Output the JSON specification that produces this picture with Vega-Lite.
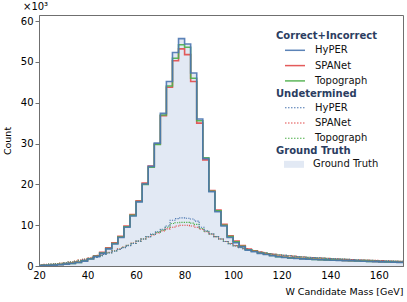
{
  "$schema": "https://vega.github.io/schema/vega-lite/v6.json",
  "width": 364,
  "height": 251,
  "autosize": {"type": "none"},
  "padding": {"left": 39, "top": 15, "right": 4, "bottom": 36},
  "config": {
    "font": "DejaVu Sans",
    "view": {"stroke": "#6f6f6f", "strokeWidth": 1},
    "axis": {"grid": false, "domainColor": "#6f6f6f", "tickColor": "#6f6f6f", "labelColor": "#000", "labelFontSize": 10, "titleFontSize": 9.5, "titleFontWeight": "normal", "titleColor": "#000"},
    "legend": {"orient": "none", "titleFontSize": 10, "titleFontWeight": "bold", "titleColor": "#2b3d61", "labelFontSize": 10, "labelColor": "#111", "symbolType": "M-2,0H2", "symbolSize": 100, "symbolStrokeWidth": 1.5, "symbolOffset": 13, "labelOffset": 14, "rowPadding": 4.3, "titlePadding": 3, "padding": 0}
  },
  "title": {"text": "×10³", "anchor": "start", "frame": "group", "fontSize": 10, "fontWeight": "normal", "color": "#000", "dx": -16, "offset": 3},
  "datasets": {
    "main": [
      {"m": 20, "HyPER": 0.10, "SPANet": 0.13, "Topograph": 0.11, "Truth": 0.10},
      {"m": 22.5, "HyPER": 0.15, "SPANet": 0.19, "Topograph": 0.17, "Truth": 0.15},
      {"m": 25, "HyPER": 0.22, "SPANet": 0.27, "Topograph": 0.24, "Truth": 0.22},
      {"m": 27.5, "HyPER": 0.32, "SPANet": 0.38, "Topograph": 0.35, "Truth": 0.32},
      {"m": 30, "HyPER": 0.45, "SPANet": 0.52, "Topograph": 0.48, "Truth": 0.45},
      {"m": 32.5, "HyPER": 0.60, "SPANet": 0.70, "Topograph": 0.65, "Truth": 0.60},
      {"m": 35, "HyPER": 0.85, "SPANet": 0.97, "Topograph": 0.90, "Truth": 0.85},
      {"m": 37.5, "HyPER": 1.20, "SPANet": 1.35, "Topograph": 1.27, "Truth": 1.20},
      {"m": 40, "HyPER": 1.70, "SPANet": 1.85, "Topograph": 1.77, "Truth": 1.70},
      {"m": 42.5, "HyPER": 2.30, "SPANet": 2.50, "Topograph": 2.40, "Truth": 2.30},
      {"m": 45, "HyPER": 3.10, "SPANet": 3.35, "Topograph": 3.20, "Truth": 3.10},
      {"m": 47.5, "HyPER": 4.20, "SPANet": 4.45, "Topograph": 4.30, "Truth": 4.20},
      {"m": 50, "HyPER": 5.40, "SPANet": 5.70, "Topograph": 5.50, "Truth": 5.40},
      {"m": 52.5, "HyPER": 7.00, "SPANet": 7.30, "Topograph": 7.10, "Truth": 7.00},
      {"m": 55, "HyPER": 9.50, "SPANet": 9.80, "Topograph": 9.60, "Truth": 9.50},
      {"m": 57.5, "HyPER": 12.25, "SPANet": 12.60, "Topograph": 12.40, "Truth": 12.25},
      {"m": 60, "HyPER": 15.70, "SPANet": 16.00, "Topograph": 15.80, "Truth": 15.70},
      {"m": 62.5, "HyPER": 20.10, "SPANet": 20.30, "Topograph": 20.00, "Truth": 20.10},
      {"m": 65, "HyPER": 24.40, "SPANet": 24.50, "Topograph": 24.20, "Truth": 24.40},
      {"m": 67.5, "HyPER": 30.10, "SPANet": 29.90, "Topograph": 29.80, "Truth": 30.10},
      {"m": 70, "HyPER": 37.40, "SPANet": 36.80, "Topograph": 37.00, "Truth": 37.40},
      {"m": 72.5, "HyPER": 45.20, "SPANet": 43.80, "Topograph": 44.10, "Truth": 45.20},
      {"m": 75, "HyPER": 52.30, "SPANet": 50.30, "Topograph": 50.90, "Truth": 52.30},
      {"m": 77.5, "HyPER": 55.70, "SPANet": 53.20, "Topograph": 54.20, "Truth": 55.70},
      {"m": 80, "HyPER": 54.40, "SPANet": 51.80, "Topograph": 53.60, "Truth": 54.40},
      {"m": 82.5, "HyPER": 47.30, "SPANet": 45.20, "Topograph": 46.00, "Truth": 47.30},
      {"m": 85, "HyPER": 36.00, "SPANet": 35.00, "Topograph": 35.60, "Truth": 36.00},
      {"m": 87.5, "HyPER": 26.30, "SPANet": 26.00, "Topograph": 26.50, "Truth": 26.30},
      {"m": 90, "HyPER": 18.20, "SPANet": 18.50, "Topograph": 18.30, "Truth": 18.20},
      {"m": 92.5, "HyPER": 13.30, "SPANet": 13.70, "Topograph": 13.50, "Truth": 13.30},
      {"m": 95, "HyPER": 9.80, "SPANet": 10.20, "Topograph": 10.00, "Truth": 9.80},
      {"m": 97.5, "HyPER": 7.00, "SPANet": 7.40, "Topograph": 7.20, "Truth": 7.00},
      {"m": 100, "HyPER": 5.70, "SPANet": 6.10, "Topograph": 5.90, "Truth": 5.70},
      {"m": 102.5, "HyPER": 4.70, "SPANet": 5.00, "Topograph": 4.85, "Truth": 4.70},
      {"m": 105, "HyPER": 3.90, "SPANet": 4.15, "Topograph": 4.00, "Truth": 3.90},
      {"m": 107.5, "HyPER": 3.50, "SPANet": 3.70, "Topograph": 3.60, "Truth": 3.50},
      {"m": 110, "HyPER": 3.10, "SPANet": 3.30, "Topograph": 3.20, "Truth": 3.10},
      {"m": 112.5, "HyPER": 2.80, "SPANet": 2.95, "Topograph": 2.87, "Truth": 2.80},
      {"m": 115, "HyPER": 2.50, "SPANet": 2.65, "Topograph": 2.57, "Truth": 2.50},
      {"m": 117.5, "HyPER": 2.25, "SPANet": 2.38, "Topograph": 2.30, "Truth": 2.25},
      {"m": 120, "HyPER": 2.10, "SPANet": 2.22, "Topograph": 2.15, "Truth": 2.10},
      {"m": 122.5, "HyPER": 1.95, "SPANet": 2.06, "Topograph": 2.00, "Truth": 1.95},
      {"m": 125, "HyPER": 1.85, "SPANet": 1.95, "Topograph": 1.90, "Truth": 1.85},
      {"m": 127.5, "HyPER": 1.75, "SPANet": 1.84, "Topograph": 1.80, "Truth": 1.75},
      {"m": 130, "HyPER": 1.67, "SPANet": 1.75, "Topograph": 1.70, "Truth": 1.67},
      {"m": 132.5, "HyPER": 1.60, "SPANet": 1.68, "Topograph": 1.63, "Truth": 1.60},
      {"m": 135, "HyPER": 1.53, "SPANet": 1.60, "Topograph": 1.56, "Truth": 1.53},
      {"m": 137.5, "HyPER": 1.47, "SPANet": 1.54, "Topograph": 1.50, "Truth": 1.47},
      {"m": 140, "HyPER": 1.42, "SPANet": 1.48, "Topograph": 1.45, "Truth": 1.42},
      {"m": 142.5, "HyPER": 1.37, "SPANet": 1.43, "Topograph": 1.40, "Truth": 1.37},
      {"m": 145, "HyPER": 1.32, "SPANet": 1.37, "Topograph": 1.34, "Truth": 1.32},
      {"m": 147.5, "HyPER": 1.27, "SPANet": 1.32, "Topograph": 1.29, "Truth": 1.27},
      {"m": 150, "HyPER": 1.22, "SPANet": 1.27, "Topograph": 1.24, "Truth": 1.22},
      {"m": 152.5, "HyPER": 1.17, "SPANet": 1.22, "Topograph": 1.19, "Truth": 1.17},
      {"m": 155, "HyPER": 1.12, "SPANet": 1.17, "Topograph": 1.14, "Truth": 1.12},
      {"m": 157.5, "HyPER": 1.07, "SPANet": 1.12, "Topograph": 1.09, "Truth": 1.07},
      {"m": 160, "HyPER": 1.02, "SPANet": 1.07, "Topograph": 1.04, "Truth": 1.02},
      {"m": 162.5, "HyPER": 0.98, "SPANet": 1.03, "Topograph": 1.00, "Truth": 0.98},
      {"m": 165, "HyPER": 0.94, "SPANet": 0.98, "Topograph": 0.96, "Truth": 0.94},
      {"m": 167.5, "HyPER": 0.90, "SPANet": 0.94, "Topograph": 0.92, "Truth": 0.90},
      {"m": 170, "HyPER": 0.90, "SPANet": 0.94, "Topograph": 0.92, "Truth": 0.90}
    ],
    "undet": [
      {"m": 20, "HyPER": 0.25, "SPANet": 0.35, "Topograph": 0.30},
      {"m": 22, "HyPER": 0.32, "SPANet": 0.42, "Topograph": 0.37},
      {"m": 24, "HyPER": 0.40, "SPANet": 0.50, "Topograph": 0.45},
      {"m": 26, "HyPER": 0.50, "SPANet": 0.60, "Topograph": 0.55},
      {"m": 28, "HyPER": 0.60, "SPANet": 0.72, "Topograph": 0.66},
      {"m": 30, "HyPER": 0.75, "SPANet": 0.87, "Topograph": 0.80},
      {"m": 32, "HyPER": 0.90, "SPANet": 1.03, "Topograph": 0.96},
      {"m": 34, "HyPER": 1.10, "SPANet": 1.22, "Topograph": 1.15},
      {"m": 36, "HyPER": 1.30, "SPANet": 1.45, "Topograph": 1.37},
      {"m": 38, "HyPER": 1.55, "SPANet": 1.70, "Topograph": 1.62},
      {"m": 40, "HyPER": 1.80, "SPANet": 1.97, "Topograph": 1.88},
      {"m": 42, "HyPER": 2.10, "SPANet": 2.27, "Topograph": 2.18},
      {"m": 44, "HyPER": 2.45, "SPANet": 2.60, "Topograph": 2.52},
      {"m": 46, "HyPER": 2.80, "SPANet": 2.95, "Topograph": 2.87},
      {"m": 48, "HyPER": 3.20, "SPANet": 3.33, "Topograph": 3.25},
      {"m": 50, "HyPER": 3.60, "SPANet": 3.75, "Topograph": 3.67},
      {"m": 52, "HyPER": 4.05, "SPANet": 4.20, "Topograph": 4.12},
      {"m": 54, "HyPER": 4.50, "SPANet": 4.65, "Topograph": 4.57},
      {"m": 56, "HyPER": 5.00, "SPANet": 5.10, "Topograph": 5.05},
      {"m": 58, "HyPER": 5.50, "SPANet": 5.60, "Topograph": 5.55},
      {"m": 60, "HyPER": 6.10, "SPANet": 6.10, "Topograph": 6.10},
      {"m": 62, "HyPER": 6.60, "SPANet": 6.60, "Topograph": 6.60},
      {"m": 64, "HyPER": 7.20, "SPANet": 7.10, "Topograph": 7.15},
      {"m": 66, "HyPER": 7.80, "SPANet": 7.60, "Topograph": 7.70},
      {"m": 68, "HyPER": 8.40, "SPANet": 8.10, "Topograph": 8.25},
      {"m": 70, "HyPER": 9.00, "SPANet": 8.60, "Topograph": 8.80},
      {"m": 72, "HyPER": 9.80, "SPANet": 9.10, "Topograph": 9.50},
      {"m": 74, "HyPER": 11.20, "SPANet": 9.50, "Topograph": 10.40},
      {"m": 76, "HyPER": 11.60, "SPANet": 9.80, "Topograph": 10.60},
      {"m": 78, "HyPER": 11.80, "SPANet": 10.00, "Topograph": 10.70},
      {"m": 80, "HyPER": 11.70, "SPANet": 10.00, "Topograph": 10.70},
      {"m": 82, "HyPER": 11.50, "SPANet": 9.80, "Topograph": 10.50},
      {"m": 84, "HyPER": 11.00, "SPANet": 9.50, "Topograph": 10.20},
      {"m": 86, "HyPER": 9.50, "SPANet": 9.00, "Topograph": 9.20},
      {"m": 88, "HyPER": 8.60, "SPANet": 8.40, "Topograph": 8.50},
      {"m": 90, "HyPER": 7.90, "SPANet": 7.80, "Topograph": 7.85},
      {"m": 92, "HyPER": 7.20, "SPANet": 7.20, "Topograph": 7.20},
      {"m": 94, "HyPER": 6.60, "SPANet": 6.60, "Topograph": 6.60},
      {"m": 96, "HyPER": 6.00, "SPANet": 6.00, "Topograph": 6.00},
      {"m": 98, "HyPER": 5.40, "SPANet": 5.50, "Topograph": 5.45},
      {"m": 100, "HyPER": 4.90, "SPANet": 5.00, "Topograph": 4.95},
      {"m": 102, "HyPER": 4.50, "SPANet": 4.60, "Topograph": 4.55},
      {"m": 104, "HyPER": 4.20, "SPANet": 4.25, "Topograph": 4.22},
      {"m": 106, "HyPER": 3.90, "SPANet": 3.95, "Topograph": 3.92},
      {"m": 108, "HyPER": 3.60, "SPANet": 3.70, "Topograph": 3.65},
      {"m": 110, "HyPER": 3.40, "SPANet": 3.45, "Topograph": 3.42},
      {"m": 112, "HyPER": 3.20, "SPANet": 3.25, "Topograph": 3.22},
      {"m": 114, "HyPER": 3.00, "SPANet": 3.07, "Topograph": 3.03},
      {"m": 116, "HyPER": 2.85, "SPANet": 2.90, "Topograph": 2.87},
      {"m": 118, "HyPER": 2.70, "SPANet": 2.76, "Topograph": 2.73},
      {"m": 120, "HyPER": 2.60, "SPANet": 2.64, "Topograph": 2.62},
      {"m": 122, "HyPER": 2.50, "SPANet": 2.53, "Topograph": 2.51},
      {"m": 124, "HyPER": 2.40, "SPANet": 2.43, "Topograph": 2.41},
      {"m": 126, "HyPER": 2.30, "SPANet": 2.33, "Topograph": 2.31},
      {"m": 128, "HyPER": 2.20, "SPANet": 2.24, "Topograph": 2.22},
      {"m": 130, "HyPER": 2.10, "SPANet": 2.15, "Topograph": 2.12},
      {"m": 132, "HyPER": 2.05, "SPANet": 2.08, "Topograph": 2.06},
      {"m": 134, "HyPER": 2.00, "SPANet": 2.01, "Topograph": 2.00},
      {"m": 136, "HyPER": 1.92, "SPANet": 1.94, "Topograph": 1.93},
      {"m": 138, "HyPER": 1.85, "SPANet": 1.88, "Topograph": 1.86},
      {"m": 140, "HyPER": 1.80, "SPANet": 1.82, "Topograph": 1.81},
      {"m": 142, "HyPER": 1.74, "SPANet": 1.76, "Topograph": 1.75},
      {"m": 144, "HyPER": 1.68, "SPANet": 1.70, "Topograph": 1.69},
      {"m": 146, "HyPER": 1.62, "SPANet": 1.64, "Topograph": 1.63},
      {"m": 148, "HyPER": 1.56, "SPANet": 1.59, "Topograph": 1.57},
      {"m": 150, "HyPER": 1.50, "SPANet": 1.54, "Topograph": 1.52},
      {"m": 152, "HyPER": 1.46, "SPANet": 1.49, "Topograph": 1.47},
      {"m": 154, "HyPER": 1.42, "SPANet": 1.45, "Topograph": 1.43},
      {"m": 156, "HyPER": 1.38, "SPANet": 1.41, "Topograph": 1.39},
      {"m": 158, "HyPER": 1.34, "SPANet": 1.37, "Topograph": 1.35},
      {"m": 160, "HyPER": 1.30, "SPANet": 1.33, "Topograph": 1.31},
      {"m": 162, "HyPER": 1.26, "SPANet": 1.29, "Topograph": 1.27},
      {"m": 164, "HyPER": 1.22, "SPANet": 1.25, "Topograph": 1.23},
      {"m": 166, "HyPER": 1.18, "SPANet": 1.21, "Topograph": 1.19},
      {"m": 168, "HyPER": 1.15, "SPANet": 1.18, "Topograph": 1.16},
      {"m": 170, "HyPER": 1.15, "SPANet": 1.18, "Topograph": 1.16}
    ]
  },
  "layer": [
    {
      "data": {"name": "main"},
      "mark": {"type": "area", "interpolate": "step-after", "clip": true},
      "encoding": {
        "x": {"field": "m", "type": "quantitative", "scale": {"domain": [20, 170], "nice": false, "zero": false},
              "axis": {"orient": "bottom", "values": [20, 40, 60, 80, 100, 120, 140, 160], "tickSize": -4, "labelPadding": 8, "title": "W Candidate Mass [GeV]", "titleAnchor": "end", "titlePadding": 6, "labelFlush": false}},
        "y": {"field": "Truth", "type": "quantitative", "scale": {"domain": [0, 61.5], "nice": false},
              "axis": {"values": [0, 10, 20, 30, 40, 50, 60], "tickSize": 4, "labelPadding": 2, "title": "Count", "titlePadding": 8}},
        "fill": {"datum": "Ground Truth", "type": "nominal", "scale": {"range": ["#e2e9f4"]},
                 "legend": {"title": "Ground Truth", "legendX": 237, "legendY": 131.3, "symbolType": "M-2,-0.7H2V0.7H-2Z", "symbolStrokeWidth": 0}}
      }
    },
    {
      "data": {"name": "undet"},
      "transform": [{"fold": ["SPANet", "Topograph", "HyPER"], "as": ["model", "k"]}],
      "mark": {"type": "line", "interpolate": "step-after", "strokeWidth": 1.1, "strokeDash": [1.2, 1.2], "clip": true},
      "encoding": {
        "x": {"field": "m", "type": "quantitative", "axis": null},
        "y": {"field": "k", "type": "quantitative"},
        "color": {"field": "model", "type": "nominal", "scale": {"domain": ["HyPER", "SPANet", "Topograph"], "range": ["#4a76b0", "#e24a4a", "#4daf4a"]},
                  "legend": {"title": "Undetermined", "legendX": 237, "legendY": 73.7, "symbolDash": [1.5, 1.5], "symbolStrokeWidth": 1.1}}
      }
    },
    {
      "data": {"name": "main"},
      "transform": [{"fold": ["SPANet", "Topograph", "HyPER"], "as": ["model", "k"]}],
      "mark": {"type": "line", "interpolate": "step-after", "strokeWidth": 1.6, "opacity": 0.9, "clip": true},
      "encoding": {
        "x": {"field": "m", "type": "quantitative", "axis": null},
        "y": {"field": "k", "type": "quantitative"},
        "color": {"field": "model", "type": "nominal", "scale": {"domain": ["HyPER", "SPANet", "Topograph"], "range": ["#4a76b0", "#e24a4a", "#4daf4a"]},
                  "legend": {"title": "Correct+Incorrect", "legendX": 237, "legendY": 16.3}}
      }
    },
    {
      "data": {"values": [{"t": 30}, {"t": 50}, {"t": 70}, {"t": 90}, {"t": 110}, {"t": 130}, {"t": 150}]},
      "mark": {"type": "point", "opacity": 0},
      "encoding": {
        "x": {"field": "t", "type": "quantitative", "axis": {"orient": "bottom", "values": [30, 50, 70, 90, 110, 130, 150, 170], "labels": false, "domain": false, "tickSize": -3, "title": null}},
        "y": {"datum": 0, "type": "quantitative"}
      }
    }
  ],
  "resolve": {"scale": {"color": "independent"}, "legend": {"color": "independent"}, "axis": {"x": "independent"}}
}
